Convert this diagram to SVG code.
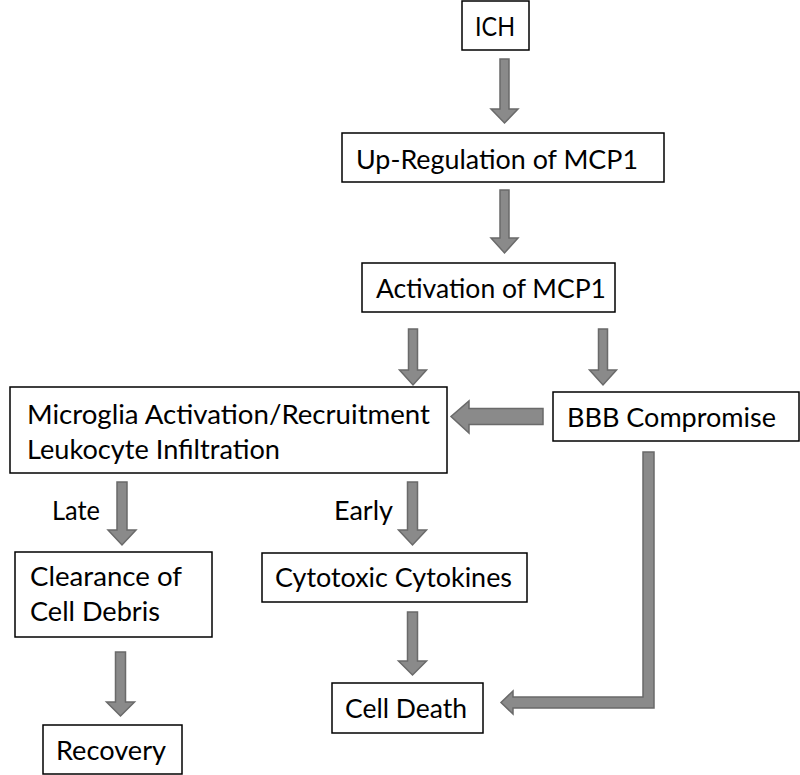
<svg xmlns="http://www.w3.org/2000/svg" width="800" height="775" viewBox="0 0 800 775">
<style>
.box{fill:#fff;stroke:#000;stroke-width:1.5}
.t{font-family:Lato,"Open Sans","Liberation Sans",sans-serif;font-size:26.5px;fill:#000}
.ar{fill:#8a8a8a;stroke:#6a6a6a;stroke-width:1.5;stroke-linejoin:miter}
</style>
<rect width="800" height="775" fill="#fff"/>
<g id="connectors">
<polygon class="ar" points="500,59 509,59 509,109 518,109 504.5,123 491,109 500,109"/>
<polygon class="ar" points="500,190 509,190 509,238 518,238 504.5,253 491,238 500,238"/>
<polygon class="ar" points="408.5,329 417.5,329 417.5,370 426.5,370 413,385 399.5,370 408.5,370"/>
<polygon class="ar" points="598.5,329 607.5,329 607.5,370 616.5,370 603,385 589.5,370 598.5,370"/>
<polygon class="ar" points="543,408.5 543,424.5 469,424.5 469,433 451,416.5 469,401 469,408.5"/>
<polygon class="ar" points="643,452 654,452 654,708 513,708 513,714 501,702.5 513,691 513,697 643,697"/>
<polygon class="ar" points="117,482 127,482 127,530 136,530 122,545 108,530 117,530"/>
<polygon class="ar" points="407.5,482 417.5,482 417.5,530 426.5,530 412.5,545 398.5,530 407.5,530"/>
<polygon class="ar" points="407.5,612 417.5,612 417.5,661 426.5,661 412.5,675 398.5,661 407.5,661"/>
<polygon class="ar" points="115.5,652 125.5,652 125.5,702 134.5,702 120.5,716 106.5,702 115.5,702"/>
<text class="t" x="52" y="520" textLength="48" lengthAdjust="spacingAndGlyphs">Late</text>
<text class="t" x="334" y="520" textLength="59" lengthAdjust="spacingAndGlyphs">Early</text>
</g>
<g id="ich">
<rect class="box" x="462" y="1" width="67" height="49"/>
<text class="t" x="475" y="36" textLength="40" lengthAdjust="spacingAndGlyphs">ICH</text>
</g>
<g id="upreg">
<rect class="box" x="342" y="133" width="322" height="49"/>
<text class="t" x="356" y="169" textLength="282" lengthAdjust="spacingAndGlyphs">Up-Regulation of MCP1</text>
</g>
<g id="activation">
<rect class="box" x="362" y="263" width="253" height="49"/>
<text class="t" x="376" y="298" textLength="230" lengthAdjust="spacingAndGlyphs">Activation of MCP1</text>
</g>
<g id="microglia">
<rect class="box" x="10" y="387" width="437" height="86"/>
<text class="t" x="27" y="424" textLength="403" lengthAdjust="spacingAndGlyphs">Microglia Activation/Recruitment</text>
<text class="t" x="27" y="459" textLength="253" lengthAdjust="spacingAndGlyphs">Leukocyte Infiltration</text>
</g>
<g id="bbb">
<rect class="box" x="553" y="392" width="246" height="49"/>
<text class="t" x="567" y="427" textLength="209" lengthAdjust="spacingAndGlyphs">BBB Compromise</text>
</g>
<g id="clearance">
<rect class="box" x="15" y="552" width="197" height="85"/>
<text class="t" x="30" y="586" textLength="152" lengthAdjust="spacingAndGlyphs">Clearance of</text>
<text class="t" x="30" y="621" textLength="130" lengthAdjust="spacingAndGlyphs">Cell Debris</text>
</g>
<g id="cytotoxic">
<rect class="box" x="262" y="553" width="265" height="49"/>
<text class="t" x="275" y="587" textLength="237" lengthAdjust="spacingAndGlyphs">Cytotoxic Cytokines</text>
</g>
<g id="celldeath">
<rect class="box" x="332" y="683" width="151" height="50"/>
<text class="t" x="345" y="718" textLength="122" lengthAdjust="spacingAndGlyphs">Cell Death</text>
</g>
<g id="recovery">
<rect class="box" x="43" y="725" width="139" height="49"/>
<text class="t" x="56" y="760" textLength="110" lengthAdjust="spacingAndGlyphs">Recovery</text>
</g>
</svg>
